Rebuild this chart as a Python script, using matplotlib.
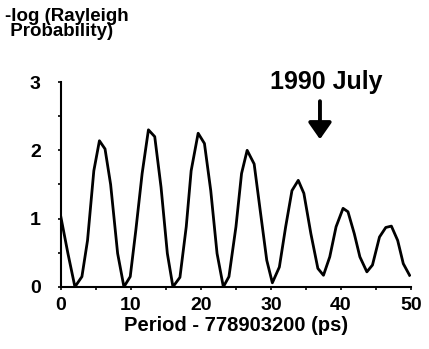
import matplotlib
matplotlib.use("Agg")
import matplotlib.pyplot as plt
import numpy as np

period = [0, 1, 2, 3, 3.8, 4.7, 5.5, 6.3, 7.1, 8.1, 9, 9.9, 10.7, 11.6, 12.5, 13.4,
          14.3, 15.2, 16, 17, 17.9, 18.6, 19.6, 20.5, 21.4, 22.3, 23.2, 24, 25, 25.8,
          26.6, 27.6, 28.4, 29.4, 30.2, 31.2, 32.1, 33, 33.9, 34.7, 35.7, 36.7, 37.5,
          38.4, 39.3, 40.3, 41, 41.9, 42.7, 43.7, 44.5, 45.5, 46.4, 47.2, 48.1, 48.9, 49.8]
neglog_p = [1.02, 0.49, 0.0, 0.15, 0.68, 1.7, 2.14, 2.02, 1.5, 0.49, 0.0, 0.15, 0.83, 1.66,
            2.3, 2.2, 1.46, 0.49, 0.0, 0.14, 0.88, 1.7, 2.25, 2.1, 1.41, 0.49, 0.0, 0.15,
            0.88, 1.66, 2.0, 1.8, 1.17, 0.39, 0.06, 0.29, 0.88, 1.41, 1.56, 1.37, 0.78,
            0.27, 0.17, 0.44, 0.88, 1.15, 1.1, 0.78, 0.44, 0.22, 0.32, 0.73, 0.87, 0.89,
            0.68, 0.34, 0.17]

x_ticks = [0, 10, 20, 30, 40, 50]
y_ticks = [0, 1, 2, 3]

plt.rcParams['font.family'] = ['Liberation Sans', 'DejaVu Sans']
plt.rcParams['font.weight'] = 'bold'

fig = plt.figure(figsize=(4.29, 3.49), dpi=100)
ax = fig.add_axes([0.142, 0.178, 0.816, 0.587])
ax.plot(period, neglog_p, color='black', lw=2.0)
ax.set_xlim(0, 50)
ax.set_ylim(0, 3)
ax.spines['top'].set_visible(False)
ax.spines['right'].set_visible(False)
ax.spines['left'].set_linewidth(1.5)
ax.spines['bottom'].set_linewidth(1.5)
ax.set_xticks(x_ticks)
ax.set_yticks(y_ticks)
ax.set_xticks(np.arange(5, 50, 10), minor=True)
ax.set_yticks(np.arange(0.5, 3, 1.0), minor=True)
ax.tick_params(axis='both', which='both', direction='out', length=2.5, width=1.2)
ax.tick_params(axis='x', which='major', labelsize=14, pad=5)
ax.tick_params(axis='y', which='major', labelsize=14, pad=12)
for lab in ax.get_xticklabels() + ax.get_yticklabels():
    lab.set_fontweight('bold')
ax.set_xlabel('Period - 778903200 (ps)', fontsize=14.5, fontweight='bold', labelpad=1)

fig.text(0.012, 0.978, '-log (Rayleigh\n Probability)', fontsize=13.5, fontweight='bold',
         va='top', ha='left', linespacing=0.85)
ax.text(37.9, 3.0, '1990 July', fontsize=18, fontweight='bold', ha='center', va='center')
ax.annotate('', xy=(37.0, 2.12), xytext=(37.0, 2.76),
            arrowprops=dict(arrowstyle='-|>,head_width=0.7,head_length=1.0',
                            color='black', lw=2.8), annotation_clip=False)

fig.savefig('out.png', dpi=100)
